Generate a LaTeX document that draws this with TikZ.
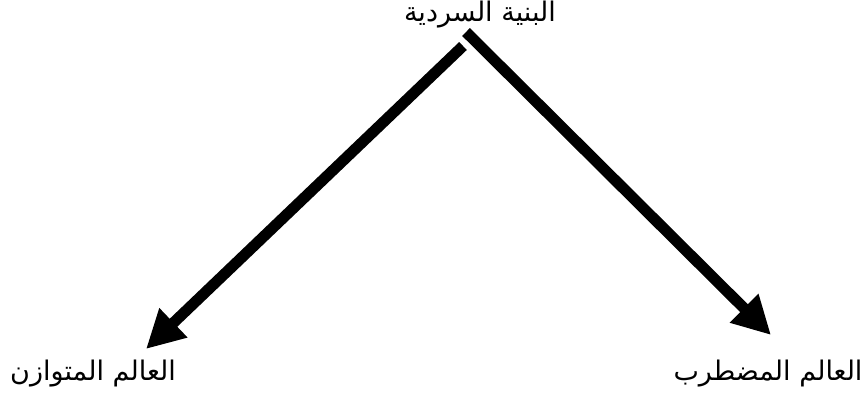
\documentclass[tikz,border=0pt]{standalone}
\usepackage{fontspec}
\usetikzlibrary{arrows.meta}
\TeXXeTstate=1
\newfontfamily\arabicfont[Script=Arabic]{DejaVu Sans}

\tikzset{
  lbl/.style={inner sep=0pt,font=\arabicfont\fontsize{27}{32}\selectfont},
  bigarrow/.style={line width=11pt,-{Triangle[length=38pt,width=38pt]}}
}

\begin{document}
\begin{tikzpicture}[x=1pt,y=-1pt]
\useasboundingbox (0,0) rectangle (868,400);
% labels
\node[lbl] (top) at (480,15) {\beginR البنية السردية\endR};
\node[lbl] (lft) at (93,374) {\beginR العالم المتوازن\endR};
\node[lbl] (rgt) at (768,374) {\beginR العالم المضطرب\endR};
% arrow ends
\coordinate (ls) at ([shift={(-17,31)}]top.center);
\coordinate (rs) at ([shift={(-14,17)}]top.center);
\coordinate (lt) at ([shift={(53,-25)}]lft.center);
\coordinate (rt) at ([shift={(3,-39)}]rgt.center);
\draw[bigarrow] (ls)--(lt);
\draw[bigarrow] (rs)--(rt);
\end{tikzpicture}
\end{document}
